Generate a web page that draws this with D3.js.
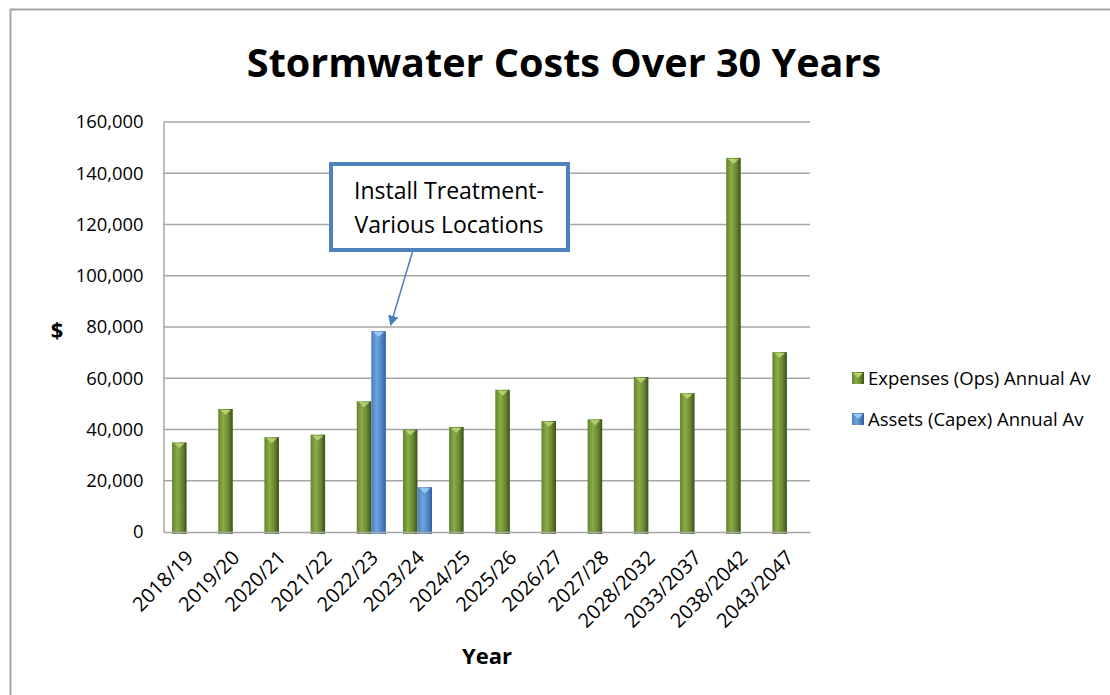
<!DOCTYPE html>
<html>
<head>
<meta charset="utf-8">
<script src="https://cdn.jsdelivr.net/npm/d3@7"></script>
<style>
  body { margin: 0; background: #fff; }
  text { font-family: "Open Sans", sans-serif; fill: #000; }
</style>
</head>
<body>
<svg id="chart" width="1110" height="695"></svg>
<script>
// data
const years = ['2018/19', '2019/20', '2020/21', '2021/22', '2022/23', '2023/24', '2024/25',
  '2025/26', '2026/27', '2027/28', '2028/2032', '2033/2037', '2038/2042', '2043/2047'];
const opsExpenses = [35000, 48000, 37000, 38000, 51000, 40000, 41000,
  55500, 43300, 44000, 60500, 54200, 146000, 70200];
const capexAssets = [0, 0, 0, 0, 78400, 17500, 0, 0, 0, 0, 0, 0, 0, 0];
const seriesNames = ['Expenses (Ops) Annual Av', 'Assets (Capex) Annual Av'];
const yTicks = [0, 20000, 40000, 60000, 80000, 100000, 120000, 140000, 160000];

const svg = d3.select('#chart');
const m = { left: 163.5, right: 810, top: 122, bottom: 532 };

const defs = svg.append('defs');
const grads = [
  { id: 'gGreen', stops: ['#64832f', '#8aac47', '#68882f', '#3a501d'] },
  { id: 'gBlue', stops: ['#4a7cba', '#6ea3e0', '#4f86c8', '#2f5f9a'] }
];
grads.forEach(g => {
  const lg = defs.append('linearGradient').attr('id', g.id)
    .attr('x1', 0).attr('x2', 1).attr('y1', 0).attr('y2', 0);
  [0, 0.35, 0.7, 1].forEach((o, i) => lg.append('stop').attr('offset', o).attr('stop-color', g.stops[i]));
});
const capColors = ['#b2d070', '#9cc8f2'];

// outer frame
svg.append('rect').attr('x', 10.5).attr('y', 9.5).attr('width', 1200).attr('height', 800)
  .attr('fill', 'none').attr('stroke', '#a6a6a6').attr('stroke-width', 2);

svg.append('text').attr('x', 564).attr('y', 77).attr('text-anchor', 'middle')
  .style('font-size', '39.6px').style('font-weight', 'bold')
  .text('Stormwater Costs Over 30 Years');

const x0 = d3.scaleBand().domain(years).range([m.left, m.right])
  .paddingInner(0.37).paddingOuter(0.185);
const x1 = d3.scaleBand().domain([0, 1]).range([0, x0.bandwidth()]);
const y = d3.scaleLinear().domain([0, 160000]).range([m.bottom, m.top]);

// gridlines
svg.append('g').selectAll('line').data(yTicks.slice(1)).join('line')
  .attr('x1', m.left).attr('x2', m.right)
  .attr('y1', d => y(d)).attr('y2', d => y(d))
  .attr('stroke', '#a6a6a6').attr('stroke-width', 1.5);

// y axis
const yAxis = svg.append('g').attr('transform', `translate(${m.left},0)`)
  .call(d3.axisLeft(y).tickValues(yTicks).tickFormat(d3.format(',')).tickSize(0).tickPadding(20));
yAxis.select('.domain').attr('stroke', '#a6a6a6').attr('stroke-width', 1.5);
yAxis.selectAll('text').style('font-size', '18.4px').attr('fill', '#000');

// bars
const groups = svg.append('g').selectAll('g').data(years).join('g')
  .attr('transform', d => `translate(${x0(d)},0)`);
[opsExpenses, capexAssets].forEach((vals, s) => {
  const bw = x1.bandwidth();
  const bars = groups.filter((d, i) => vals[i] > 0);
  bars.append('rect')
    .attr('x', x1(s)).attr('width', bw)
    .attr('y', (d) => y(vals[years.indexOf(d)]))
    .attr('height', d => m.bottom + 2 - y(vals[years.indexOf(d)]))
    .attr('fill', `url(#${grads[s].id})`);
  bars.append('path')
    .attr('d', d => {
      const top = y(vals[years.indexOf(d)]);
      const l = x1(s) + 2, r = x1(s) + bw - 2, c = x1(s) + bw / 2;
      return `M${l},${top + 1}L${r},${top + 1}L${c},${top + 6}Z`;
    })
    .attr('fill', capColors[s]);
});

// x axis
const xAxis = svg.append('g').attr('transform', `translate(0,${m.bottom})`)
  .call(d3.axisBottom(x0).tickSize(0).tickPadding(0));
xAxis.select('.domain').attr('stroke', '#a6a6a6').attr('stroke-width', 1.5);
xAxis.selectAll('text')
  .style('font-size', '20px').attr('fill', '#000')
  .attr('text-anchor', 'end').attr('dy', 0)
  .attr('transform', 'translate(8,27) rotate(-45)');

svg.append('text').attr('x', 487).attr('y', 664).attr('text-anchor', 'middle')
  .style('font-size', '22px').style('font-weight', 'bold').text('Year');
svg.append('text').attr('x', 57).attr('y', 338).attr('text-anchor', 'middle')
  .style('font-size', '22px').style('font-weight', 'bold').text('$');

// legend
const legend = svg.append('g').selectAll('g').data(seriesNames).join('g')
  .attr('transform', (d, i) => `translate(852,${378 + i * 41})`);
legend.append('rect').attr('x', 0).attr('y', -6).attr('width', 12).attr('height', 12)
  .attr('fill', (d, i) => `url(#${grads[i].id})`);
legend.append('path').attr('d', 'M1,-5L11,-5L6,0Z').attr('fill', (d, i) => capColors[i]);
legend.append('text').attr('x', 16).attr('y', 7).style('font-size', '18.5px').text(d => d);

// callout
const callout = svg.append('g');
defs.append('marker').attr('id', 'arrow').attr('viewBox', '0 0 10 10')
  .attr('refX', 9).attr('refY', 5).attr('markerWidth', 7).attr('markerHeight', 7)
  .attr('orient', 'auto').append('path').attr('d', 'M0,0L10,5L0,10Z').attr('fill', '#4a7ebb');
callout.append('line').attr('x1', 413).attr('y1', 250)
  .attr('x2', x0('2022/23') + x1(1) + x1.bandwidth() / 2 + 12).attr('y2', y(78400) - 6)
  .attr('stroke', '#4a7ebb').attr('stroke-width', 1.5).attr('marker-end', 'url(#arrow)');
callout.append('rect').attr('x', 331).attr('y', 164).attr('width', 237).attr('height', 86)
  .attr('fill', '#fff').attr('stroke', '#4f81bd').attr('stroke-width', 4);
callout.append('text').attr('x', 449).attr('y', 199).attr('text-anchor', 'middle')
  .style('font-size', '23px').text('Install Treatment-');
callout.append('text').attr('x', 449).attr('y', 233).attr('text-anchor', 'middle')
  .style('font-size', '23px').text('Various Locations');
</script>
</body>
</html>
